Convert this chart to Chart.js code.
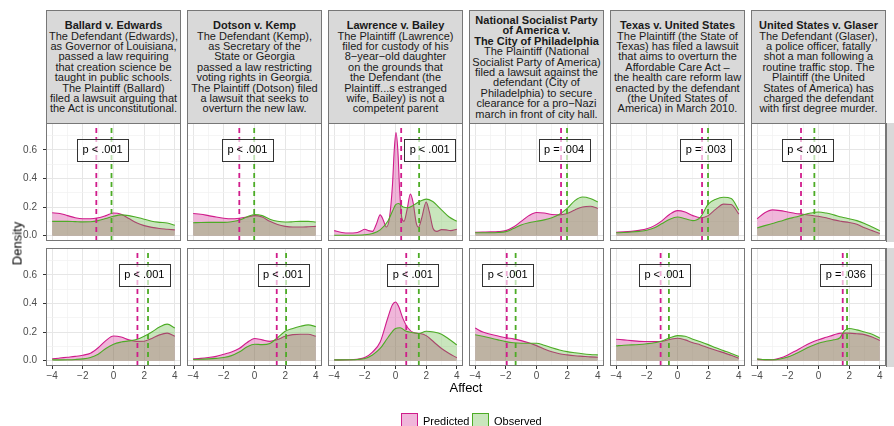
<!DOCTYPE html>
<html>
<head>
<meta charset="utf-8">
<script src="https://cdn.jsdelivr.net/npm/chart.js@4.4.1/dist/chart.umd.min.js"></script>
<style>
  html, body { margin: 0; padding: 0; background: #fff; }
  #fig { position: relative; width: 894px; height: 426px; overflow: hidden;
         font-family: "Liberation Sans", Arial, Helvetica, sans-serif; }
  #fig canvas { position: absolute; }
  .strip { position: absolute; top: 10px; width: 135px; height: 114px; box-sizing: border-box;
           background: #d9d9d9; border: 1px solid #777; display: flex;
           justify-content: center; align-items: center; }
  .strip div { text-align: center; font-size: 11px; line-height: 10.4px; color: #1a1a1a; white-space: nowrap; }
  .strip b { font-weight: bold; }
  .side { position: absolute; left: 886px; width: 10px; height: 119px; box-sizing: border-box;
          background: #d9d9d9; border-left: 1px solid #777; }
  .ttl { position: absolute; font-size: 13px; color: #000; }
  .key { position: absolute; top: 413px; width: 17px; height: 17px; box-sizing: border-box; }
  .keylab { position: absolute; top: 415px; font-size: 11px; color: #000; }
</style>
</head>
<body>
<div id="fig"></div>
<script>
// ── Data ─────────────────────────────────────
const caseTitles = [
  ['Ballard v. Edwards'],
  ['Dotson v. Kemp'],
  ['Lawrence v. Bailey'],
  ['National Socialist Party', 'of America v.', 'The City of Philadelphia'],
  ['Texas v. United States'],
  ['United States v. Glaser']
];
const caseTexts = [
  ['The Defendant (Edwards),', 'as Governor of Louisiana,', 'passed a law requiring', 'that creation science be',
   'taught in public schools.', 'The Plaintiff (Ballard)', 'filed a lawsuit arguing that', 'the Act is unconstitutional.'],
  ['The Defendant (Kemp),', 'as Secretary of the', 'State or Georgia', 'passed a law restricting',
   'voting rights in Georgia.', 'The Plaintiff (Dotson) filed', 'a lawsuit that seeks to', 'overturn the new law.'],
  ['The Plaintiff (Lawrence)', 'filed for custody of his', '8\u2212year\u2212old daughter', 'on the grounds that',
   'the Defendant (the', 'Plaintiff...s estranged', 'wife, Bailey) is not a', 'competent parent'],
  ['The Plaintiff (National', 'Socialist Party of America)', 'filed a lawsuit against the', 'defendant (City of',
   'Philadelphia) to secure', 'clearance for a pro\u2212Nazi', 'march in front of city hall.'],
  ['The Plaintiff (the State of', 'Texas) has filed a lawsuit', 'that aims to overturn the', 'Affordable Care Act \u2013',
   'the health care reform law', 'enacted by the defendant', '(the United States of', 'America) in March 2010.'],
  ['The Defendant (Glaser),', 'a police officer, fatally', 'shot a man following a', 'routine traffic stop. The',
   'Plaintiff (the United', 'States of America) has', 'charged the defendant', 'with first degree murder.']
];

const affectGrid = [-4, -3.5, -3, -2.5, -2, -1.5, -1, -0.5, 0, 0.5, 1, 1.5, 2, 2.5, 3, 3.5, 4];
const affectTicks = [-4, -3, -2, -1, 0, 1, 2, 3, 4];
const densityTicks = [0, 0.1, 0.2, 0.3, 0.4, 0.5, 0.6, 0.7];

// density values on affectGrid, or explicit [affect, density] pairs
const predictedTop = [
  [0.16, 0.155, 0.14, 0.125, 0.118, 0.118, 0.125, 0.14, 0.158, 0.15, 0.12, 0.09, 0.07, 0.058, 0.05, 0.045, 0.04],
  [0.155, 0.15, 0.14, 0.13, 0.122, 0.118, 0.122, 0.13, 0.14, 0.13, 0.1, 0.078, 0.065, 0.06, 0.06, 0.062, 0.065],
  [[-4, 0.035], [-3.5, 0.022], [-3, 0.018], [-2.6, 0.02], [-2.3, 0.03], [-2, 0.045], [-1.75, 0.035], [-1.5, 0.03],
   [-1.25, 0.08], [-1, 0.145], [-0.8, 0.11], [-0.6, 0.06], [-0.4, 0.12], [-0.2, 0.35], [-0.08, 0.6], [0.03, 0.72],
   [0.15, 0.6], [0.28, 0.3], [0.42, 0.12], [0.55, 0.1], [0.75, 0.18], [0.97, 0.29], [1.15, 0.23], [1.35, 0.09],
   [1.5, 0.06], [1.7, 0.12], [2.0, 0.235], [2.2, 0.17], [2.45, 0.05], [2.7, 0.03], [3.0, 0.042], [3.3, 0.04],
   [3.6, 0.035], [4, 0.045]],
  [0.024, 0.025, 0.026, 0.028, 0.035, 0.06, 0.1, 0.14, 0.162, 0.158, 0.148, 0.145, 0.155, 0.18, 0.2, 0.205, 0.19],
  [0.024, 0.026, 0.03, 0.037, 0.048, 0.07, 0.105, 0.15, 0.175, 0.165, 0.14, 0.125, 0.14, 0.185, 0.22, 0.218, 0.15],
  [0.118, 0.16, 0.18, 0.175, 0.165, 0.155, 0.15, 0.143, 0.135, 0.125, 0.11, 0.1, 0.092, 0.08, 0.055, 0.035, 0.015]
];
const observedTop = [
  [0.1, 0.1, 0.1, 0.098, 0.096, 0.097, 0.105, 0.12, 0.135, 0.145, 0.14, 0.128, 0.115, 0.1, 0.093, 0.088, 0.072],
  [0.09, 0.092, 0.093, 0.093, 0.093, 0.097, 0.108, 0.13, 0.148, 0.14, 0.115, 0.1, 0.095, 0.097, 0.1, 0.1, 0.095],
  [[-4, 0.003], [-3, 0.003], [-2, 0.006], [-1.5, 0.015], [-1, 0.04], [-0.5, 0.1], [-0.2, 0.17], [0, 0.215],
   [0.2, 0.225], [0.5, 0.2], [0.8, 0.195], [1.2, 0.215], [1.6, 0.24], [2, 0.255], [2.4, 0.24], [3, 0.18],
   [3.5, 0.13], [4, 0.1]],
  [0.02, 0.02, 0.02, 0.022, 0.028, 0.05, 0.075, 0.09, 0.1, 0.11, 0.125, 0.15, 0.19, 0.245, 0.27, 0.26, 0.235],
  [0.02, 0.022, 0.025, 0.03, 0.038, 0.055, 0.085, 0.115, 0.13, 0.118, 0.105, 0.13, 0.22, 0.255, 0.268, 0.26, 0.178],
  [0.054, 0.07, 0.085, 0.1, 0.117, 0.13, 0.145, 0.158, 0.165, 0.158, 0.145, 0.13, 0.118, 0.105, 0.085, 0.06, 0.035]
];
const predictedBottom = [
  [0.012, 0.018, 0.024, 0.03, 0.038, 0.052, 0.09, 0.14, 0.172, 0.165, 0.145, 0.135, 0.136, 0.155, 0.18, 0.192, 0.17],
  [0.012, 0.016, 0.022, 0.03, 0.045, 0.06, 0.085, 0.125, 0.155, 0.145, 0.135, 0.148, 0.17, 0.182, 0.185, 0.185, 0.17],
  [[-4, 0.005], [-3, 0.006], [-2.5, 0.01], [-2, 0.022], [-1.5, 0.06], [-1, 0.13], [-0.5, 0.3], [-0.2, 0.39],
   [0, 0.41], [0.2, 0.38], [0.5, 0.29], [0.8, 0.23], [1.2, 0.195], [1.6, 0.19], [2, 0.175], [2.5, 0.13],
   [3, 0.085], [3.5, 0.05], [4, 0.02]],
  [0.228, 0.2, 0.185, 0.172, 0.16, 0.152, 0.14, 0.125, 0.105, 0.082, 0.062, 0.048, 0.04, 0.034, 0.03, 0.026, 0.024],
  [0.15, 0.145, 0.14, 0.135, 0.134, 0.133, 0.135, 0.148, 0.157, 0.145, 0.125, 0.11, 0.09, 0.072, 0.056, 0.037, 0.017],
  [0.01, 0.007, 0.006, 0.018, 0.04, 0.068, 0.098, 0.125, 0.146, 0.163, 0.18, 0.192, 0.192, 0.188, 0.182, 0.165, 0.141]
];
const observedBottom = [
  [0.006, 0.005, 0.006, 0.008, 0.012, 0.022, 0.045, 0.085, 0.115, 0.13, 0.138, 0.148, 0.17, 0.2, 0.235, 0.255, 0.228],
  [0.008, 0.01, 0.012, 0.016, 0.022, 0.035, 0.06, 0.095, 0.115, 0.112, 0.12, 0.16, 0.205, 0.225, 0.24, 0.25, 0.238],
  [[-4, 0.005], [-3, 0.006], [-2.5, 0.008], [-2, 0.015], [-1.5, 0.04], [-1, 0.085], [-0.5, 0.16], [0, 0.225],
   [0.3, 0.23], [0.7, 0.205], [1.2, 0.195], [1.5, 0.19], [2, 0.205], [2.5, 0.2], [3, 0.185], [3.5, 0.15], [4, 0.11]],
  [0.181, 0.17, 0.158, 0.145, 0.133, 0.125, 0.122, 0.122, 0.122, 0.108, 0.09, 0.075, 0.063, 0.055, 0.048, 0.043, 0.04],
  [0.103, 0.108, 0.11, 0.113, 0.118, 0.125, 0.137, 0.16, 0.175, 0.17, 0.15, 0.132, 0.112, 0.09, 0.07, 0.05, 0.028],
  [[-4, 0.012], [-3.5, 0.007], [-3, 0.006], [-2.5, 0.012], [-2, 0.025], [-1.5, 0.048], [-1, 0.075], [-0.5, 0.1],
   [0, 0.122], [0.5, 0.135], [1, 0.146], [1.4, 0.16], [1.7, 0.21], [2, 0.225], [2.5, 0.215], [3, 0.2],
   [3.5, 0.185], [4, 0.157]]
];

const meanPredictedTop = [-1.12, -0.99, 0.37, 1.6, 1.6, -1.14];
const meanObservedTop = [-0.13, -0.02, 1.54, 1.99, 1.99, -0.27];
const meanPredictedBottom = [1.56, 1.45, 0.7, -1.94, -1.1, 1.58];
const meanObservedBottom = [2.25, 2.06, 1.52, -1.36, -0.56, 1.86];

const pTextTop = ['p < .001', 'p < .001', 'p < .001', 'p = .004', 'p = .003', 'p < .001'];
const pTextBottom = ['p < .001', 'p < .001', 'p < .001', 'p < .001', 'p < .001', 'p = .036'];
const pAtTop = [-0.71, -0.46, 2.23, 1.8, 1.85, -0.73];
const pAtBottom = [2.01, 1.86, 1.13, -1.88, -0.85, 1.78];

// ── Styles ───────────────────────────────────
const PRED_LINE = '#d01c8b', PRED_FILL = 'rgba(208,28,139,0.32)';
const OBS_LINE = '#4dac26', OBS_FILL = 'rgba(77,172,38,0.3)';
const FONT = '"Liberation Sans", Arial, Helvetica, sans-serif';
const Y_MIN = -0.0375, Y_MAX = 0.7875;

const fig = document.getElementById('fig');

function toPoints(series) {
  return series.map((v, i) => Array.isArray(v) ? { x: v[0], y: v[1] } : { x: affectGrid[i], y: v });
}

// ── Plugins ──────────────────────────────────
const panelBorder = {
  id: 'panelBorder',
  afterDraw(chart) {
    const { ctx, chartArea: a } = chart;
    ctx.save();
    ctx.strokeStyle = '#777';
    ctx.lineWidth = 1;
    ctx.strokeRect(a.left + 0.5, a.top + 0.5, a.right - a.left - 1, a.bottom - a.top - 1);
    ctx.restore();
  }
};

const pLabel = {
  id: 'pLabel',
  afterDatasetsDraw(chart, args, opts) {
    const { ctx, scales: { x, y } } = chart;
    const cx = x.getPixelForValue(opts.at), cy = y.getPixelForValue(0.6);
    const w = 51, h = 22;
    ctx.save();
    ctx.fillStyle = 'rgba(255,255,255,0.65)';
    ctx.fillRect(cx - w / 2, cy - h / 2, w, h);
    ctx.strokeStyle = '#333';
    ctx.lineWidth = 1;
    ctx.strokeRect(Math.round(cx - w / 2) + 0.5, Math.round(cy - h / 2) + 0.5, w, h);
    ctx.fillStyle = '#000';
    ctx.font = '11px ' + FONT;
    ctx.textAlign = 'center';
    ctx.textBaseline = 'middle';
    ctx.fillText(opts.text, cx, cy + 0.5);
    ctx.restore();
  }
};

// ── Panels ───────────────────────────────────
function isMajor(v, step) { return Math.abs(Math.round(v / step) - v / step) < 1e-6; }

function makePanel(col, row) {
  const PL = 46 + 141 * col, PT = row === 0 ? 123 : 248, PW = 135, PH = 118;
  const yW = col === 0 ? 46 : 3;
  const xH = row === 1 ? 18 : 6;
  const left = PL - yW;
  const canvas = document.createElement('canvas');
  canvas.width = PW + yW;
  canvas.height = PH + xH;
  canvas.style.left = left + 'px';
  canvas.style.top = PT + 'px';
  canvas.style.width = canvas.width + 'px';
  canvas.style.height = canvas.height + 'px';
  fig.appendChild(canvas);

  const pred = row === 0 ? predictedTop[col] : predictedBottom[col];
  const obs = row === 0 ? observedTop[col] : observedBottom[col];
  const mp = row === 0 ? meanPredictedTop[col] : meanPredictedBottom[col];
  const mo = row === 0 ? meanObservedTop[col] : meanObservedBottom[col];

  const curve = (data, line, fill) => ({
    data: toPoints(data), borderColor: line, backgroundColor: fill, borderWidth: 1.1,
    fill: 'origin', pointRadius: 0, cubicInterpolationMode: 'monotone'
  });
  const meanLine = (m, color) => ({
    data: [{ x: m, y: Y_MIN }, { x: m, y: Y_MAX }], borderColor: color, borderWidth: 1.8,
    borderDash: [5, 4], pointRadius: 0, fill: false
  });

  new Chart(canvas, {
    type: 'line',
    data: {
      datasets: [
        meanLine(mo, OBS_LINE),
        meanLine(mp, PRED_LINE),
        curve(obs, OBS_LINE, OBS_FILL),
        curve(pred, PRED_LINE, PRED_FILL)
      ]
    },
    options: {
      responsive: false,
      animation: false,
      layout: { padding: 0 },
      plugins: {
        legend: { display: false },
        tooltip: { enabled: false },
        pLabel: { text: row === 0 ? pTextTop[col] : pTextBottom[col], at: row === 0 ? pAtTop[col] : pAtBottom[col] }
      },
      scales: {
        x: {
          type: 'linear', min: -4.4, max: 4.4,
          afterBuildTicks: s => { s.ticks = affectTicks.map(v => ({ value: v })); },
          afterFit: s => { s.height = xH; s.paddingLeft = 0; s.paddingRight = 0; },
          border: { display: false },
          grid: {
            drawTicks: row === 1, tickLength: 3,
            color: c => (c.tick && isMajor(c.tick.value, 2)) ? '#e6e6e6' : '#f1f1f1',
            lineWidth: c => (c.tick && isMajor(c.tick.value, 2)) ? 1 : 0.7,
            tickColor: c => (c.tick && isMajor(c.tick.value, 2)) ? '#333' : 'rgba(0,0,0,0)'
          },
          ticks: {
            display: row === 1, autoSkip: false, maxRotation: 0, padding: 1,
            color: '#4d4d4d', font: { family: FONT, size: 10 },
            callback: v => isMajor(v, 2) ? String(v).replace('-', '\u2212') : ''
          }
        },
        y: {
          type: 'linear', min: Y_MIN, max: Y_MAX,
          afterBuildTicks: s => { s.ticks = densityTicks.map(v => ({ value: v })); },
          afterFit: s => { s.width = yW; s.paddingTop = 0; s.paddingBottom = 0; },
          border: { display: false },
          grid: {
            drawTicks: col === 0, tickLength: 3,
            color: c => (c.tick && isMajor(c.tick.value, 0.2)) ? '#e6e6e6' : '#f1f1f1',
            lineWidth: c => (c.tick && isMajor(c.tick.value, 0.2)) ? 1 : 0.7,
            tickColor: c => (c.tick && isMajor(c.tick.value, 0.2)) ? '#333' : 'rgba(0,0,0,0)'
          },
          ticks: {
            display: col === 0, autoSkip: false, padding: 6,
            color: '#4d4d4d', font: { family: FONT, size: 10 },
            callback: v => isMajor(v, 0.2) ? v.toFixed(1) : ''
          }
        }
      }
    },
    plugins: [pLabel, panelBorder]
  });
}

// ── Facet strips ─────────────────────────────
caseTitles.forEach((t, i) => {
  const d = document.createElement('div');
  d.className = 'strip';
  d.style.left = (46 + 141 * i) + 'px';
  const inner = document.createElement('div');
  inner.innerHTML = t.map(s => '<b>' + s + '</b>').join('<br>') + '<br>' + caseTexts[i].join('<br>');
  d.appendChild(inner);
  fig.appendChild(d);
});
[123, 248].forEach(top => {
  const s = document.createElement('div');
  s.className = 'side';
  s.style.top = top + 'px';
  fig.appendChild(s);
});

for (let r = 0; r < 2; r++) for (let c = 0; c < 6; c++) makePanel(c, r);

// ── Axis titles and legend ───────────────────
fig.insertAdjacentHTML('beforeend',
  '<div class="ttl" style="left:-8px;top:236px;width:50px;text-align:center;transform:rotate(-90deg);">Density</div>' +
  '<div class="ttl" style="left:416px;top:380px;width:100px;text-align:center;">Affect</div>' +
  '<div class="key" style="left:401px;background:' + PRED_FILL + ';border:1px solid ' + PRED_LINE + ';"></div>' +
  '<div class="keylab" style="left:423px;">Predicted</div>' +
  '<div class="key" style="left:472px;background:' + OBS_FILL + ';border:1px solid ' + OBS_LINE + ';"></div>' +
  '<div class="keylab" style="left:494px;">Observed</div>');
</script>
</body>
</html>
